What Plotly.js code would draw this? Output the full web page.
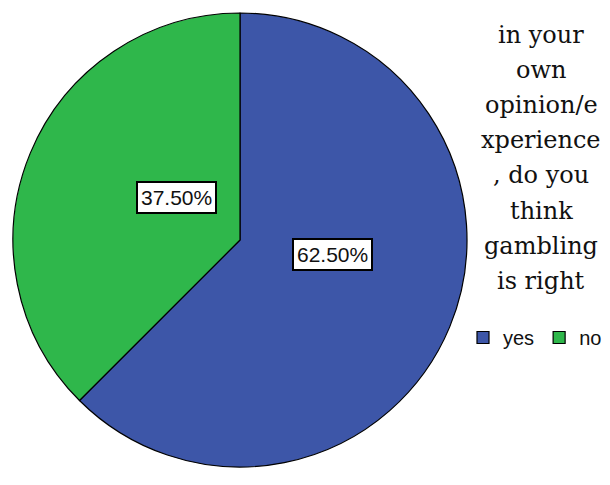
<!DOCTYPE html>
<html>
<head>
<meta charset="utf-8">
<script src="https://cdn.plot.ly/plotly-3.0.1.min.js"></script>
<style>html,body{margin:0;padding:0;background:#fff;}#chart{width:610px;height:485px;}</style>
</head>
<body>
<div id="chart"></div>
<script>
var categories = ["yes", "no"];
var percents = [62.5, 37.5];
var sliceColors = ["#3D56A8", "#2FB74B"];
var percentLabels = ["62.50%", "37.50%"];
var labelPos = [[332, 254], [136, 197]];
var titleLines = ["in your", "own", "opinion/e", "xperience", ", do you", "think", "gambling", "is right"];

var W = 610, H = 485;
var trace = {
  type: "pie",
  labels: categories,
  values: percents,
  sort: false,
  direction: "clockwise",
  rotation: 0,
  textinfo: "none",
  hoverinfo: "label+percent",
  marker: { colors: sliceColors, line: { color: "#000", width: 1.2 } },
  domain: { x: [13 / W, 467 / W], y: [(H - 467) / H, (H - 13) / H] }
};

var annotations = percentLabels.map(function (t, i) {
  return {
    text: t, xref: "paper", yref: "paper",
    x: labelPos[i][0] / W, y: 1 - labelPos[i][1] / H,
    showarrow: false,
    font: { family: "Liberation Sans", size: 21, color: "#111" },
    bgcolor: "#fff", bordercolor: "#000", borderwidth: 2, borderpad: 3
  };
});
titleLines.forEach(function (line, i) {
  annotations.push({
    text: line, xref: "paper", yref: "paper",
    x: 541 / W, y: 1 - (35 + 35.1 * i) / H, xanchor: "center", yanchor: "middle",
    showarrow: false, align: "center",
    font: { family: "DejaVu Serif", size: 24, color: "#111" }
  });
});

var layout = {
  width: W, height: H,
  margin: { l: 0, r: 0, t: 0, b: 0 },
  paper_bgcolor: "#fff",
  showlegend: true,
  legend: {
    orientation: "h", x: 463 / W, y: 1 - 318 / H, xanchor: "left", yanchor: "top",
    font: { family: "Liberation Sans", size: 20, color: "#111" },
    itemwidth: 30, tracegroupgap: 0, bgcolor: "rgba(0,0,0,0)"
  },
  annotations: annotations
};
Plotly.newPlot("chart", [trace], layout, { displayModeBar: false, staticPlot: true });
</script>
</body>
</html>
